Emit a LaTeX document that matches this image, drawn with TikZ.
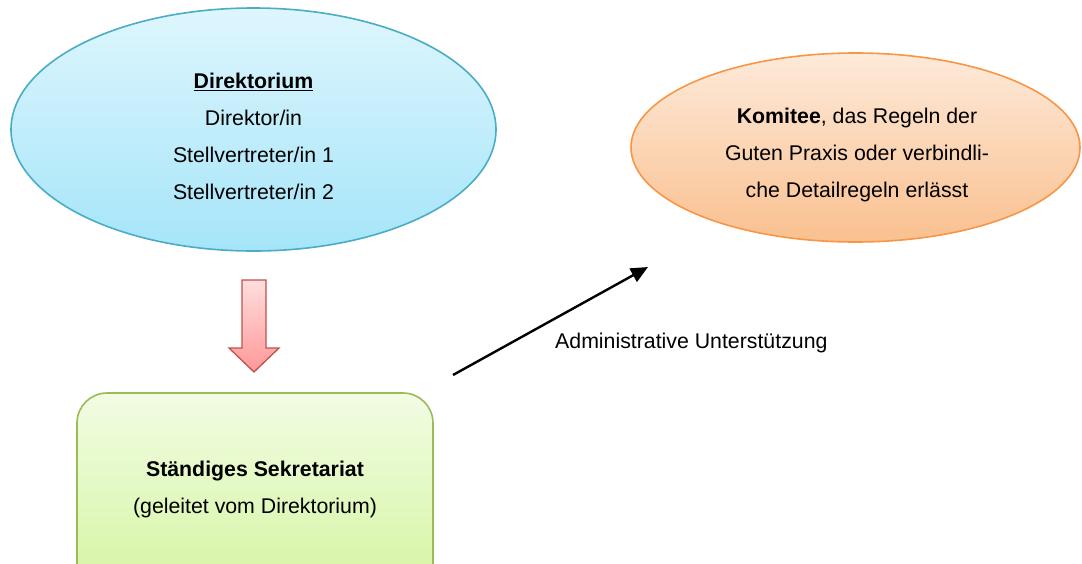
\documentclass[tikz,border=0pt]{standalone}
\usepackage{fontspec}
\setmainfont{Liberation Sans}
\usetikzlibrary{shapes.geometric,arrows.meta}
\definecolor{blueborder}{RGB}{75,172,198}
\definecolor{bluetop}{RGB}{222,246,253}
\definecolor{bluebot}{RGB}{165,229,249}
\definecolor{orborder}{RGB}{247,150,70}
\definecolor{ortop}{RGB}{253,234,218}
\definecolor{orbot}{RGB}{250,192,143}
\definecolor{redborder}{RGB}{192,80,77}
\definecolor{redtop}{RGB}{255,222,222}
\definecolor{redbot}{RGB}{255,152,152}
\definecolor{grborder}{RGB}{155,187,89}
\definecolor{grtop}{RGB}{242,252,228}
\definecolor{grbot}{RGB}{212,245,160}
\tikzset{
  txt/.style={font=\fontsize{21.3}{37}\selectfont, align=center, inner sep=0pt},
  ovalbox/.style={ellipse, line width=1.6pt, inner sep=0pt},
}
\begin{document}
\begin{tikzpicture}[x=1pt,y=-1pt]
\useasboundingbox (0,0) rectangle (1082,563);
% Direktorium ellipse
\node[ovalbox, draw=blueborder, top color=bluetop, bottom color=bluebot,
      minimum width=485pt, minimum height=243pt] (dir) at (253.5,129.5) {};
\node[txt] (dirtext) at (253.5,136) {\underline{\textbf{Direktorium}}\\Direktor/in\\Stellvertreter/in 1\\Stellvertreter/in 2};
% Komitee ellipse
\node[ovalbox, draw=orborder, top color=ortop, bottom color=orbot,
      minimum width=449pt, minimum height=189pt] (kom) at (855.5,147.5) {};
\node[txt] (komtext) at (857,155) {\textbf{Komitee}, das Regeln der\\Guten Praxis oder verbindli-\\che Detailregeln erlässt};
% red block arrow
\path[draw=redborder, line width=1.3pt, top color=redtop, bottom color=redbot, line join=miter]
  (242,280) -- (266,280) -- (266,348) -- (279,348) -- (254,372) -- (229,348) -- (242,348) -- cycle;
% Secretariat box
\node[draw=grborder, line width=1.6pt, rounded corners=30pt, top color=grtop, bottom color=grbot,
      minimum width=356pt, minimum height=200pt, inner sep=0pt] (sek) at (255,493) {};
\node[txt] (sektext) at (255,489) {\textbf{Ständiges Sekretariat}\\(geleitet vom Direktorium)};
% administrative support arrow
\coordinate (adminStart) at (453,375);
\coordinate (adminEnd) at (648,267);
\draw[line width=2.4pt, -{Triangle[length=17pt,width=15pt]}] (adminStart) -- (adminEnd);
\node[txt, anchor=base west] (admlabel) at (555,348) {Administrative Unterstützung};
\end{tikzpicture}
\end{document}
